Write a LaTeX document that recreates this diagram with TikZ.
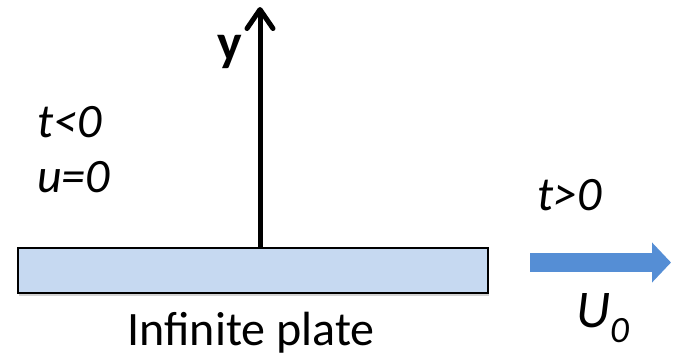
\documentclass[tikz,border=0pt]{standalone}
\usepackage{fontspec}
\setmainfont{Carlito}
\usetikzlibrary{arrows.meta,shadows}
\definecolor{plateblue}{HTML}{C6D9F1}
\definecolor{arrowblue}{HTML}{558ED5}
\tikzset{
  lbl/.style={inner sep=0pt,anchor=base west,font=\fontsize{48}{52}\selectfont\itshape},
}
\begin{document}
\begin{tikzpicture}[x=1pt,y=-1pt]
\useasboundingbox (0,0) rectangle (677,357);
% plate
\node[draw=black,line width=2pt,fill=plateblue,minimum width=470pt,minimum height=45pt,inner sep=0pt,anchor=north west,
  drop shadow={shadow xshift=1pt,shadow yshift=-3pt,opacity=0.35}] (plate) at (17,247) {};
\node[inner sep=0pt,anchor=base,font=\fontsize{48}{52}\selectfont] (plab) at (251,345) {Infinite plate};
% y axis
\coordinate (ytip) at (260,7);
\draw[line width=5pt,-{Straight Barb[length=19pt,width=26pt,line cap=round,line join=round]}] (plate.north -| ytip) -- (ytip);
\node[inner sep=0pt,anchor=base west,font=\fontsize{52}{56}\selectfont\bfseries] (ylab) at (217,60) {y};
% labels
\node[lbl] (tl) at (37,137) {t<0};
\node[lbl] (ul) at (37,192) {u=0};
\node[lbl] (tg) at (537,210) {t>0};
% moving arrow
\coordinate (ma) at (530,262.5);
\coordinate (mb) at (671,262.5);
\draw[arrowblue,line width=19pt,-{Triangle[length=19pt,width=39pt]}] (ma) -- (mb);
\node[inner sep=0pt,anchor=base west,font=\fontsize{53}{57}\selectfont\itshape] (u0) at (576,327) {U\textsubscript{0}};
\end{tikzpicture}
\end{document}
